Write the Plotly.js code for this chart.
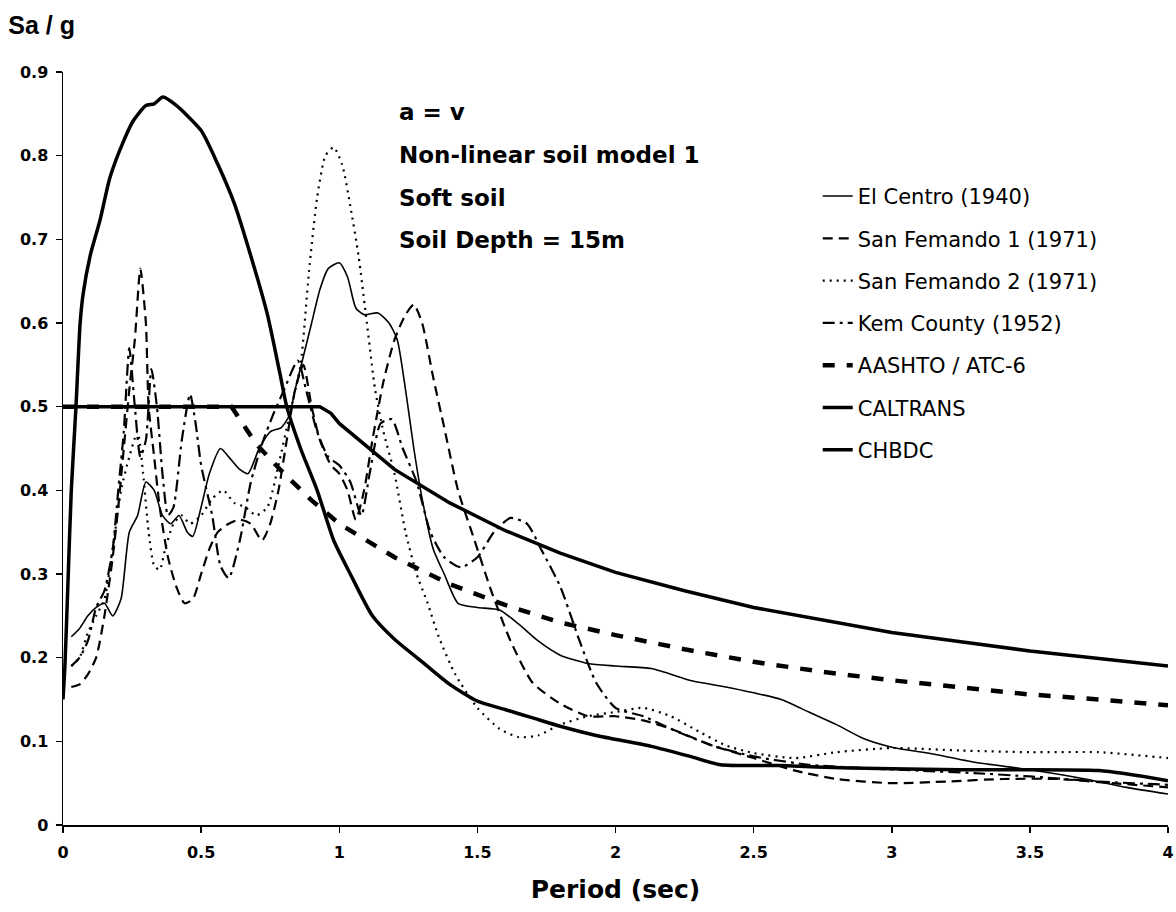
<!DOCTYPE html>
<html>
<head>
<meta charset="utf-8">
<script src="https://cdn.plot.ly/plotly-3.0.1.min.js"></script>
<style>
  html, body { margin: 0; padding: 0; background: #fff; }
  #chart { width: 1176px; height: 912px; }
</style>
</head>
<body>
<div id="chart"></div>
<script>
// ---- Data (Period in sec, Sa/g) ----
const seriesNames = ["El Centro (1940)", "San Femando 1 (1971)", "San Femando 2 (1971)",
  "Kem County (1952)", "AASHTO / ATC-6", "CALTRANS", "CHBDC"];

const elCentro = [[0.03,0.225],[0.06,0.235],[0.09,0.25],[0.12,0.26],[0.15,0.265],[0.18,0.25],[0.21,0.27],
  [0.24,0.35],[0.27,0.37],[0.30,0.41],[0.33,0.40],[0.36,0.37],[0.39,0.36],[0.42,0.37],[0.45,0.35],[0.47,0.345],
  [0.50,0.38],[0.53,0.42],[0.57,0.45],[0.60,0.44],[0.64,0.425],[0.67,0.42],[0.71,0.45],[0.75,0.47],[0.79,0.475],
  [0.82,0.49],[0.84,0.52],[0.87,0.56],[0.90,0.60],[0.93,0.64],[0.96,0.665],[1.00,0.672],[1.03,0.655],[1.06,0.618],
  [1.09,0.61],[1.14,0.612],[1.18,0.60],[1.21,0.58],[1.24,0.52],[1.27,0.45],[1.30,0.39],[1.34,0.33],[1.38,0.30],
  [1.43,0.265],[1.50,0.26],[1.58,0.257],[1.65,0.24],[1.72,0.22],[1.80,0.203],[1.90,0.193],[2.00,0.19],[2.13,0.187],
  [2.28,0.172],[2.40,0.165],[2.50,0.158],[2.60,0.15],[2.70,0.135],[2.80,0.12],[2.90,0.103],[3.00,0.093],[3.13,0.086],
  [3.30,0.075],[3.50,0.066],[3.70,0.055],[3.85,0.045],[4.00,0.037]];

const sanFernando1 = [[0.03,0.165],[0.06,0.168],[0.09,0.18],[0.12,0.20],[0.15,0.25],[0.18,0.32],[0.20,0.38],
  [0.22,0.45],[0.24,0.52],[0.26,0.58],[0.28,0.665],[0.30,0.60],[0.31,0.50],[0.33,0.44],[0.35,0.38],[0.38,0.32],
  [0.41,0.285],[0.44,0.265],[0.47,0.27],[0.50,0.30],[0.53,0.33],[0.56,0.35],[0.60,0.36],[0.64,0.365],[0.68,0.36],
  [0.72,0.34],[0.75,0.36],[0.78,0.40],[0.81,0.46],[0.84,0.52],[0.87,0.55],[0.90,0.50],[0.93,0.46],[0.97,0.43],
  [1.00,0.42],[1.03,0.40],[1.06,0.365],[1.09,0.40],[1.12,0.46],[1.16,0.53],[1.20,0.58],[1.24,0.61],[1.27,0.622],
  [1.30,0.60],[1.34,0.535],[1.38,0.475],[1.43,0.40],[1.49,0.34],[1.55,0.28],[1.62,0.22],[1.70,0.17],[1.80,0.145],
  [1.90,0.13],[2.00,0.13],[2.10,0.125],[2.20,0.115],[2.35,0.095],[2.50,0.08],[2.65,0.065],[2.80,0.055],[3.00,0.05],
  [3.20,0.052],[3.40,0.055],[3.60,0.055],[3.80,0.05],[4.00,0.045]];

const sanFernando2 = [[0.03,0.19],[0.06,0.20],[0.09,0.23],[0.12,0.25],[0.15,0.27],[0.18,0.33],[0.21,0.40],
  [0.24,0.44],[0.27,0.47],[0.29,0.42],[0.31,0.35],[0.33,0.31],[0.35,0.305],[0.37,0.33],[0.40,0.36],[0.43,0.37],
  [0.46,0.36],[0.50,0.37],[0.54,0.39],[0.58,0.40],[0.62,0.385],[0.66,0.38],[0.70,0.37],[0.74,0.38],[0.78,0.43],
  [0.82,0.49],[0.86,0.55],[0.89,0.66],[0.92,0.75],[0.95,0.80],[0.98,0.81],[1.01,0.79],[1.04,0.74],[1.07,0.68],
  [1.10,0.60],[1.13,0.52],[1.16,0.47],[1.20,0.42],[1.24,0.35],[1.28,0.30],[1.32,0.265],[1.36,0.225],[1.42,0.18],
  [1.50,0.14],[1.58,0.115],[1.65,0.105],[1.72,0.107],[1.80,0.12],[1.90,0.13],[2.00,0.135],[2.10,0.14],[2.20,0.13],
  [2.30,0.112],[2.40,0.095],[2.50,0.086],[2.65,0.08],[2.80,0.087],[3.00,0.092],[3.25,0.089],[3.50,0.087],
  [3.75,0.087],[4.00,0.08]];

const kernCounty = [[0.03,0.19],[0.06,0.20],[0.09,0.22],[0.12,0.26],[0.15,0.28],[0.18,0.33],[0.20,0.40],
  [0.22,0.47],[0.24,0.57],[0.26,0.50],[0.28,0.44],[0.30,0.46],[0.32,0.545],[0.34,0.50],[0.36,0.42],[0.38,0.37],
  [0.40,0.38],[0.43,0.46],[0.46,0.515],[0.48,0.48],[0.50,0.43],[0.54,0.37],[0.57,0.31],[0.60,0.295],[0.64,0.34],
  [0.68,0.41],[0.72,0.455],[0.76,0.49],[0.80,0.52],[0.85,0.555],[0.88,0.52],[0.92,0.47],[0.96,0.44],[1.00,0.43],
  [1.04,0.41],[1.08,0.37],[1.11,0.42],[1.15,0.48],[1.19,0.485],[1.23,0.45],[1.28,0.41],[1.33,0.35],[1.38,0.32],
  [1.44,0.308],[1.50,0.32],[1.56,0.35],[1.62,0.367],[1.68,0.36],[1.73,0.33],[1.80,0.285],[1.87,0.22],[1.93,0.17],
  [2.00,0.14],[2.10,0.13],[2.20,0.115],[2.35,0.095],[2.50,0.082],[2.70,0.072],[2.90,0.068],[3.10,0.065],
  [3.30,0.062],[3.50,0.058],[3.75,0.052],[4.00,0.048]];

const aashto = [[0.00,0.50],[0.61,0.50],[0.70,0.455],[0.80,0.42],[0.90,0.388],[1.00,0.36],[1.20,0.32],
  [1.40,0.288],[1.60,0.263],[1.80,0.242],[2.00,0.227],[2.25,0.21],[2.50,0.195],[2.75,0.183],[3.00,0.173],
  [3.25,0.164],[3.50,0.156],[3.75,0.15],[4.00,0.143]];

const caltrans = [[0.00,0.15],[0.007,0.19],[0.018,0.29],[0.03,0.40],[0.047,0.50],[0.062,0.60],[0.073,0.635],
  [0.098,0.68],[0.134,0.723],[0.17,0.774],[0.22,0.818],[0.255,0.842],[0.30,0.86],[0.33,0.862],[0.362,0.87],
  [0.41,0.86],[0.50,0.83],[0.56,0.79],[0.62,0.743],[0.68,0.68],[0.74,0.61],[0.785,0.54],[0.81,0.50],[0.86,0.45],
  [0.92,0.40],[0.98,0.34],[1.04,0.30],[1.12,0.25],[1.20,0.222],[1.30,0.195],[1.40,0.168],[1.50,0.148],
  [1.60,0.138],[1.70,0.128],[1.80,0.118],[1.93,0.107],[2.13,0.094],[2.27,0.082],[2.38,0.072],[2.60,0.071],
  [2.85,0.068],[3.25,0.066],[3.75,0.065],[4.00,0.053]];

const chbdc = [[0.00,0.50],[0.93,0.50],[0.97,0.492],[1.00,0.48],[1.20,0.425],[1.40,0.385],[1.60,0.352],[1.80,0.325],
  [2.00,0.302],[2.25,0.28],[2.50,0.26],[2.75,0.245],[3.00,0.23],[3.25,0.219],[3.50,0.208],[3.75,0.199],[4.00,0.19]];

const annotationLines = ["a = v", "Non-linear soil model 1", "Soft soil", "Soil Depth = 15m"];
const xTickVals = [0, 0.5, 1, 1.5, 2, 2.5, 3, 3.5, 4];
const yTickVals = [0, 0.1, 0.2, 0.3, 0.4, 0.5, 0.6, 0.7, 0.8, 0.9];

// ---- Styles ----
const FONT = "DejaVu Sans, Liberation Sans, Arial, sans-serif";
const FONT_NARROW = "Liberation Sans, Arial, Helvetica, sans-serif";
const seriesData = [elCentro, sanFernando1, sanFernando2, kernCounty, aashto, caltrans, chbdc];
const lineStyles = [
  {color: "#000", width: 1.6, dash: "solid"},
  {color: "#000", width: 2.2, dash: "10px,6px"},
  {color: "#000", width: 2.2, dash: "2px,5px"},
  {color: "#000", width: 2.2, dash: "12px,5px,3px,5px"},
  {color: "#000", width: 4.5, dash: "12px,12px"},
  {color: "#000", width: 3.5, dash: "solid"},
  {color: "#000", width: 3.5, dash: "solid"}
];

const traces = seriesData.map((d, i) => ({
  type: "scatter",
  mode: "lines",
  name: seriesNames[i],
  legendgroup: "g" + i,
  x: d.map(p => p[0]),
  y: d.map(p => p[1]),
  line: Object.assign({shape: "spline", smoothing: 0.6}, lineStyles[i])
}));
traces[4].line.shape = "linear";
traces[6].line.shape = "linear";

const annotations = annotationLines.map((t, i) => ({
  text: t, xref: "paper", yref: "paper",
  x: 0.302, y: [0.947, 0.890, 0.833, 0.777][i],
  xanchor: "left", yanchor: "middle", showarrow: false,
  font: {family: FONT, size: 23, color: "#000", weight: "bold"}
}));

const layout = {
  width: 1176, height: 912,
  paper_bgcolor: "#fff", plot_bgcolor: "#fff",
  margin: {l: 63, r: 8, t: 72, b: 87, pad: 0},
  showlegend: true,
  title: {
    text: "Sa / g", x: 0.007, xanchor: "left", xref: "container",
    y: 0.972, yanchor: "middle", yref: "container",
    font: {family: FONT_NARROW, size: 25, color: "#000", weight: "bold"}
  },
  xaxis: {
    range: [0, 4], tickvals: xTickVals, ticktext: xTickVals.map(String),
    showgrid: false, zeroline: false, showline: true, linecolor: "#000", linewidth: 1.5,
    ticks: "outside", ticklen: 6, tickwidth: 1.5, tickcolor: "#000",
    ticklabelstandoff: 6,
    tickfont: {family: FONT, size: 16, color: "#000", weight: "bold"},
    automargin: false,
    title: {text: "Period (sec)", font: {family: FONT, size: 25, color: "#000", weight: "bold"}, standoff: 20}
  },
  yaxis: {
    range: [0, 0.9], tickvals: yTickVals, ticktext: yTickVals.map(String),
    showgrid: false, zeroline: false, showline: true, linecolor: "#000", linewidth: 1.5,
    ticks: "outside", ticklen: 6, tickwidth: 1.5, tickcolor: "#000",
    ticklabelstandoff: 4,
    tickfont: {family: FONT, size: 16, color: "#000", weight: "bold"},
    automargin: false
  },
  legend: {
    x: 0.683, xanchor: "left", y: 0.862, yanchor: "top",
    bgcolor: "rgba(0,0,0,0)", borderwidth: 0,
    tracegroupgap: 12,
    font: {family: FONT, size: 21, color: "#000"}
  },
  annotations: annotations
};

Plotly.newPlot("chart", traces, layout, {displayModeBar: false, staticPlot: true});
</script>
</body>
</html>
